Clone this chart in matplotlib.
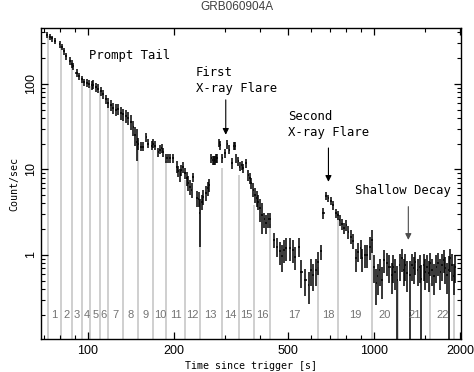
import numpy as np
import matplotlib.pyplot as plt

# light curve: time [s], count/sec, relative error
t_prompt = [72.0, 73.6, 75.0, 76.8, 79.5, 81.0, 82.5, 83.9, 86.5, 87.7, 88.8, 91.2, 93.1,
            94.9, 97.0, 99.0, 101, 103, 104.4, 106.6, 108.6, 111, 113, 115.6, 117.8, 120,
            122.6, 125.3, 127.7, 130, 132.9, 135.7, 138.3, 141, 144, 146, 148, 150, 153,
            156, 160, 162, 167, 169, 171.5, 176, 178.5, 181, 183, 188, 190, 193.5, 197.6,
            204, 207, 209.8, 212, 215, 218.4, 221.6, 224.3, 227.3, 230, 233, 239.4, 244,
            246, 250, 253, 258.6, 262, 265.5]
c_prompt = [370, 350, 340, 320, 290, 270, 240, 210, 185, 171, 160, 135, 122,
            113, 105, 103, 100, 96, 98, 92, 88, 82, 76, 66, 60, 56,
            52, 50, 51, 46, 44, 42, 40, 36, 31, 25, 21, 20, 18.5,
            18.5, 24, 20, 19, 20, 19, 16, 17, 17.6, 16, 13.5, 13.5, 13.5, 13.5,
            10.8, 9.5, 8.6, 9.9, 10.6, 9.0, 7.9, 6.9, 6.3, 5.8, 8.2, 4.6, 4.5,
            3.1, 4.2, 4.8, 5.3, 6.0, 6.6]
e_prompt = [0.08, 0.08, 0.08, 0.08, 0.09, 0.09, 0.09, 0.1, 0.1, 0.1, 0.1, 0.1, 0.1,
            0.1, 0.1, 0.1, 0.1, 0.12, 0.12, 0.12, 0.12, 0.12, 0.13, 0.13, 0.14, 0.15,
            0.15, 0.15, 0.15, 0.17, 0.17, 0.17, 0.18, 0.2, 0.2, 0.25, 0.4, 0.15, 0.12,
            0.12, 0.12, 0.12, 0.12, 0.12, 0.12, 0.12, 0.12, 0.12, 0.12, 0.12, 0.12, 0.12, 0.12,
            0.15, 0.15, 0.18, 0.15, 0.15, 0.15, 0.18, 0.2, 0.2, 0.2, 0.12, 0.2, 0.2,
            0.6, 0.2, 0.2, 0.2, 0.18, 0.18]

t_flare1 = [270, 273, 276, 278, 281, 283, 287, 290, 295, 301, 307, 312, 318, 322.7, 327,
            329, 335, 339, 344, 348, 356, 363, 368, 372.5, 378, 383, 388, 393, 399, 405,
            413, 419, 427, 433, 447, 458, 467, 477, 485, 493, 509, 519, 530, 545, 557,
            574, 590, 600, 613, 627, 638, 650]
c_flare1 = [13.5, 12.9, 12.9, 12.7, 13.5, 13.5, 20.5, 19.3, 13.5, 15.4, 19.9, 17, 11.8, 18.9, 18.9,
            13.5, 12.4, 10.8, 11.3, 10.3, 11.8, 8.6, 7.9, 6.9, 5.8, 5.0, 4.6, 4.2, 3.5, 2.9,
            2.6, 2.35, 2.6, 2.6, 1.5, 1.25, 1.1, 0.97, 1.15, 1.2, 1.2, 1.15, 0.95, 1.25, 0.64,
            0.51, 0.45, 0.67, 0.58, 0.67, 0.83, 1.1]
e_flare1 = [0.12, 0.12, 0.12, 0.12, 0.12, 0.12, 0.12, 0.12, 0.12, 0.12, 0.12, 0.12, 0.15, 0.1, 0.1,
            0.12, 0.12, 0.12, 0.12, 0.12, 0.12, 0.15, 0.15, 0.15, 0.18, 0.2, 0.2, 0.2, 0.3, 0.4,
            0.2, 0.25, 0.2, 0.2, 0.2, 0.25, 0.3, 0.35, 0.3, 0.3, 0.3, 0.3, 0.3, 0.25, 0.35,
            0.35, 0.4, 0.35, 0.35, 0.35, 0.3, 0.2]

t_flare2 = [665, 680, 692, 705, 720, 735, 748, 758, 772, 786, 800, 812, 828, 843, 865,
            880, 897, 910, 930, 947, 965, 982]
c_flare2 = [3.07, 4.9, 4.6, 4.3, 3.8, 3.1, 2.94, 2.57, 2.28, 2.05, 2.25, 1.87, 1.64, 1.47, 0.91,
            1.09, 1.2, 0.91, 1.0, 1.0, 1.25, 1.5]
e_flare2 = [0.15, 0.1, 0.1, 0.1, 0.12, 0.12, 0.12, 0.15, 0.15, 0.15, 0.15, 0.18, 0.18, 0.2, 0.3,
            0.25, 0.25, 0.3, 0.3, 0.3, 0.3, 0.3]

t_shallow = [1000, 1016, 1027, 1044, 1063, 1083, 1105, 1131, 1153, 1168, 1184, 1206, 1226, 1250,
             1267, 1284, 1302, 1329, 1354, 1373, 1392, 1418, 1441, 1461, 1488, 1508, 1529, 1549,
             1570, 1592, 1622, 1648, 1670, 1702, 1725, 1748, 1771, 1796, 1819, 1844, 1869, 1893, 1920]
c_shallow = [0.73, 0.47, 0.56, 0.67, 0.51, 0.87, 0.8, 0.73, 0.58, 0.73, 0.64, 0.51, 0.76, 0.91,
             0.67, 0.76, 0.61, 0.58, 0.76, 0.7, 0.83, 0.67, 0.73, 0.53, 0.76, 0.64, 0.73, 0.61,
             0.8, 0.67, 0.56, 0.73, 0.8, 0.64, 0.76, 0.87, 0.7, 0.58, 0.67, 0.91, 0.76, 0.56, 0.73]
e_shallow = [0.35, 0.45, 0.4, 0.35, 0.4, 0.3, 0.3, 0.35, 0.4, 0.35, 0.4, 1.0, 0.35, 0.3,
             0.35, 0.35, 0.4, 1.0, 0.35, 0.35, 0.3, 0.35, 0.35, 1.0, 0.35, 0.4, 0.35, 0.4,
             0.3, 0.35, 0.4, 0.35, 0.3, 0.4, 0.35, 0.3, 0.35, 0.4, 1.0, 0.3, 0.35, 0.4, 0.35]

# time-resolved segment boundaries and where the grey lines stop
seg_edges = [72.3, 80.3, 87.7, 95.5, 102, 110, 117, 133, 149, 169, 188, 218, 246, 293,
             337, 380, 432, 637, 750, 982, 1213, 1570, 1906]
seg_tops = [360, 280, 170, 110, 95, 82, 60, 44, 22, 17, 12.4, 7.5, 4.0, 10.4,
            8.6, 3.8, 2.3, 0.73, 3.1, 1.43, 0.5, 0.47, 0.76]

t = np.array(t_prompt + t_flare1 + t_flare2 + t_shallow, dtype=float)
c = np.array(c_prompt + c_flare1 + c_flare2 + c_shallow, dtype=float)
rel = np.array(e_prompt + e_flare1 + e_flare2 + e_shallow, dtype=float)

y_lo = np.minimum(c * rel, c * 0.999)
y_hi = c * np.minimum(rel, 0.45)

# time bin half-widths from spacing between neighbouring bins
lt = np.log10(t)
gap = np.diff(lt)
hw = 0.42 * np.minimum(np.r_[gap[0], gap], np.r_[gap, gap[-1]])
x_lo = t - 10 ** (lt - hw)
x_hi = 10 ** (lt + hw) - t

mono = 'DejaVu Sans Mono'
plt.rcParams['font.family'] = 'Liberation Sans'

fig = plt.figure(figsize=(4.74, 3.72), dpi=100)
ax = fig.add_axes([0.0865, 0.0887, 0.886, 0.836])
ax.set_xscale('log')
ax.set_yscale('log')
ax.set_xlim(68.5, 2010)
ax.set_ylim(0.104, 450)

ax.vlines(seg_edges, 0.104, seg_tops, color='0.8', lw=1.3, zorder=1)
ax.errorbar(t, c, yerr=[y_lo, y_hi], xerr=[x_lo, x_hi], fmt='none',
            ecolor='black', elinewidth=1.1, capsize=0, zorder=3)

edges = np.array(seg_edges)
mids = np.sqrt(edges[:-1] * edges[1:])
for i, m in enumerate(mids):
    ax.text(m, 0.2, str(i + 1), ha='center', va='center', fontsize=8, color='0.45')

ax.text(100.8, 213, 'Prompt Tail', family=mono, fontsize=8.8, ha='left', va='center')
ax.text(238.6, 163, 'First\nX-ray Flare', family=mono, fontsize=8.8, ha='left', va='top',
        linespacing=1.35)
ax.text(501, 50, 'Second\nX-ray Flare', family=mono, fontsize=8.8, ha='left', va='top',
        linespacing=1.35)
ax.text(856, 5.6, 'Shallow Decay', family=mono, fontsize=8.8, ha='left', va='center')

arrow = dict(arrowstyle='-|>', color='black', lw=0.8, mutation_scale=9, shrinkA=0, shrinkB=0)
ax.annotate('', xy=(302.9, 25.4), xytext=(302.9, 65), arrowprops=arrow)
ax.annotate('', xy=(692, 7.16), xytext=(692, 17.8), arrowprops=arrow)
ax.annotate('', xy=(1316, 1.5), xytext=(1316, 3.67),
            arrowprops=dict(arrow, color='0.3'))

ax.set_xticks([100, 200, 500, 1000, 2000])
ax.set_xticklabels(['100', '200', '500', '1000', '2000'])
ax.set_xticks([70, 80, 90, 300, 400, 600, 700, 800, 900, 1500], minor=True)
ax.set_xticklabels([], minor=True)
ax.set_yticks([1, 10, 100])
ax.set_yticklabels(['1', '10', '100'], rotation=90, va='center')
ax.tick_params(which='both', direction='in', top=True, right=True, labelsize=9)
ax.tick_params(which='major', length=5, width=0.9)
ax.tick_params(which='minor', length=3, width=0.8)
ax.tick_params(axis='x', pad=4)
ax.tick_params(axis='y', pad=3)
for s in ax.spines.values():
    s.set_linewidth(1.0)

ax.set_xlabel('Time since trigger [s]', family=mono, fontsize=7.2, labelpad=3)
ax.set_ylabel('Count/sec', family=mono, fontsize=7.2, labelpad=4)
fig.text(0.5, 0.972, 'GRB060904A', ha='center', va='baseline', fontsize=8.5, color='0.25')

fig.savefig('out.png', dpi=100)
